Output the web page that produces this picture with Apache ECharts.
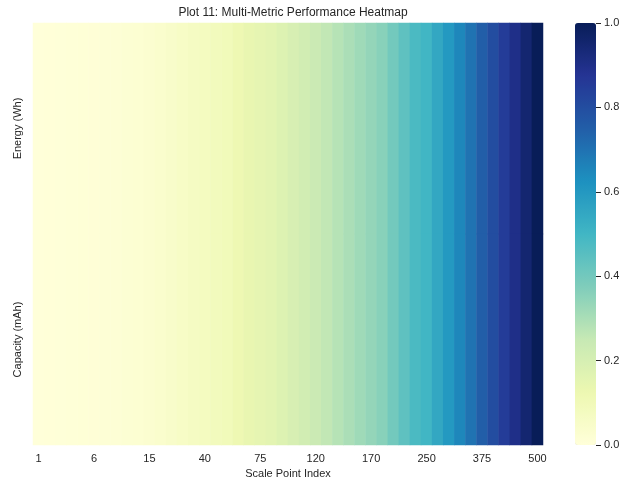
<!DOCTYPE html>
<html>
<head>
<meta charset="utf-8">
<title>Multi-Metric Performance Heatmap</title>
<script src="https://cdn.jsdelivr.net/npm/echarts@6/dist/echarts.min.js"></script>
<style>
  html, body { margin: 0; padding: 0; background: #ffffff; }
  #chart { width: 623px; height: 484px; }
</style>
</head>
<body>
<div id="chart"></div>
<script>
// Scale points along the x axis (every 5th one is labelled)
const scalePoints = [
  1, 2, 3, 4, 5, 6, 7, 8, 10, 12,
  15, 20, 25, 30, 35, 40, 45, 50, 60, 70,
  75, 80, 90, 100, 110, 120, 130, 140, 150, 160,
  170, 180, 200, 220, 240, 250, 275, 300, 325, 350,
  375, 400, 425, 450, 475, 500
];

// Metric rows, top to bottom
const metrics = ['Energy (Wh)', 'Capacity (mAh)'];

// Normalized metric values per scale point
const energyValues = [
  0.000, 0.002, 0.004, 0.006, 0.008, 0.010, 0.012, 0.014, 0.018, 0.022,
  0.028, 0.038, 0.048, 0.058, 0.068, 0.078, 0.088, 0.098, 0.118, 0.138,
  0.148, 0.158, 0.178, 0.198, 0.218, 0.238, 0.259, 0.279, 0.299, 0.319,
  0.339, 0.359, 0.399, 0.439, 0.479, 0.499, 0.549, 0.599, 0.649, 0.699,
  0.749, 0.800, 0.850, 0.900, 0.950, 1.000
];
const capacityValues = [
  0.000, 0.002, 0.004, 0.006, 0.008, 0.010, 0.012, 0.014, 0.018, 0.022,
  0.028, 0.038, 0.048, 0.058, 0.068, 0.078, 0.088, 0.098, 0.118, 0.138,
  0.148, 0.158, 0.178, 0.198, 0.218, 0.238, 0.259, 0.279, 0.299, 0.319,
  0.339, 0.359, 0.399, 0.439, 0.479, 0.499, 0.549, 0.599, 0.649, 0.699,
  0.749, 0.800, 0.850, 0.900, 0.950, 1.000
];

// Colorbar ticks
const colorbarTicks = [0.0, 0.2, 0.4, 0.6, 0.8, 1.0];

// YlGnBu colour ramp
const ylGnBu = ['#ffffd9', '#edf8b1', '#c7e9b4', '#7fcdbb', '#41b6c4',
                '#1d91c0', '#225ea8', '#253494', '#081d58'];

const rows = [energyValues, capacityValues];
const cells = [];
rows.forEach((vals, r) => {
  vals.forEach((v, c) => cells.push([c, r, v]));
});

const FONT = "'Liberation Sans', Arial, sans-serif";
const TEXT = '#262626';

const chart = echarts.init(document.getElementById('chart'), null, { renderer: 'canvas' });

chart.setOption({
  animation: false,
  backgroundColor: '#ffffff',
  textStyle: { fontFamily: FONT },
  title: {
    text: 'Plot 11: Multi-Metric Performance Heatmap',
    left: 288,
    textAlign: 'center',
    top: 2,
    textStyle: { fontSize: 12, fontWeight: 'normal', color: TEXT, fontFamily: FONT }
  },
  grid: [
    { left: 33, top: 23, width: 510, height: 422, outerBoundsMode: 'none' },
    { left: 575, top: 23, width: 21, height: 422, z: 10, outerBoundsMode: 'none' }
  ],
  xAxis: [
    {
      type: 'category',
      gridIndex: 0,
      data: scalePoints.map(String),
      name: 'Scale Point Index',
      nameLocation: 'middle',
      nameGap: 23,
      nameTextStyle: { fontSize: 11, color: TEXT, fontFamily: FONT },
      axisLine: { show: false },
      axisTick: { show: false },
      splitLine: { show: false },
      axisLabel: { interval: 4, fontSize: 11, color: TEXT, margin: 8, fontFamily: FONT }
    },
    {
      type: 'value',
      gridIndex: 1,
      show: false,
      min: 0,
      max: 1
    }
  ],
  yAxis: [
    {
      type: 'category',
      gridIndex: 0,
      data: metrics,
      inverse: true,
      axisLine: { show: false },
      axisTick: { show: false },
      splitLine: { show: false },
      axisLabel: { rotate: 90, fontSize: 11, color: TEXT, margin: 10, fontFamily: FONT }
    },
    {
      type: 'value',
      gridIndex: 1,
      position: 'right',
      min: 0,
      max: 1,
      interval: 0.2,
      z: 10,
      axisLine: { show: false, onZero: false },
      splitLine: { show: false },
      axisTick: { show: true, inside: false, length: 5, lineStyle: { color: TEXT, width: 1 } },
      axisLabel: {
        fontSize: 11,
        color: TEXT,
        margin: 8,
        fontFamily: FONT,
        formatter: v => colorbarTicks.includes(Math.round(v * 10) / 10) ? v.toFixed(1) : ''
      }
    }
  ],
  visualMap: {
    type: 'continuous',
    min: 0,
    max: 1,
    calculable: false,
    seriesIndex: 0,
    left: 575,
    top: 23,
    padding: 0,
    itemWidth: 21,
    itemHeight: 422,
    text: null,
    z: 2,
    inRange: { color: ylGnBu }
  },
  series: [
    {
      type: 'heatmap',
      xAxisIndex: 0,
      yAxisIndex: 0,
      data: cells,
      itemStyle: { borderWidth: 0 },
      emphasis: { disabled: true }
    }
  ]
});
</script>
</body>
</html>
